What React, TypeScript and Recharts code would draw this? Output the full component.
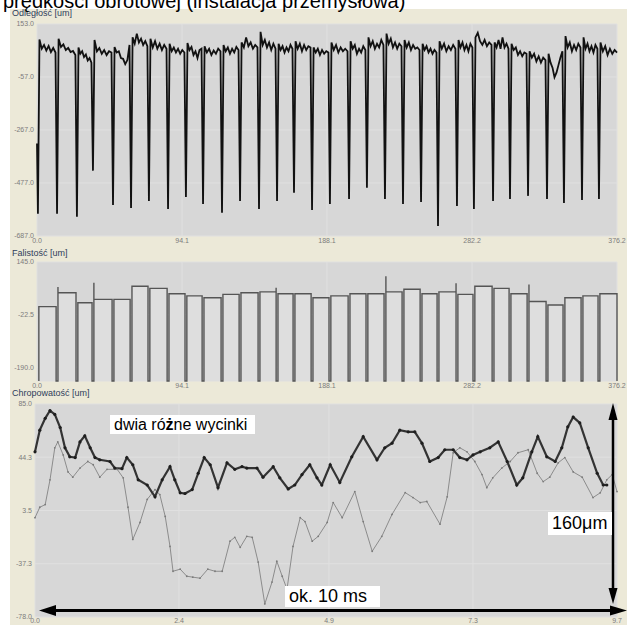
import React from "react";
import { LineChart, Line, AreaChart, Area, XAxis, YAxis, CartesianGrid } from "recharts";

// shared x positions (um scale 0..376.2) of the gaps between workpieces
const gapPos = [
  0.6, 13.0, 25.9, 36.3, 49.3, 61.0, 72.6, 85.0, 96.6, 107.7, 120.0, 131.7, 144.0, 155.7, 166.7, 178.4,
  190.0, 202.4, 214.0, 225.7, 237.4, 249.1, 260.1, 272.4, 283.4, 295.8, 306.8, 318.5, 330.8, 341.8, 353.5, 364.5,
];

// Odległość: depth of every dip and the noisy level between dips
const distStart = -320;
const dipBottom = [
  -599, -599, -611, -428, -564, -576, -548, -580, -532, -560, -595, -548, -580, -548, -516, -584,
  -560, -540, -496, -540, -560, -552, -647, -568, -580, -548, -540, -528, -540, -556, -544, -540,
];
const plateaus = [
  [92, 55, 70, 48, 66, 42, 58, 40],
  [95, 62, 72, 50, 58, 42, 46, 30],
  [60, 35, 45, 22, 32, 8, 18, 0],
  [90, 45, 58, 35, 50, 30, 45, 40],
  [62, 40, 45, 18, 15, -6, 10, 70],
  [100, 75, 115, 80, 95, 70, 85, 65],
  [95, 60, 85, 55, 75, 50, 70, 55],
  [75, 45, 60, 40, 55, 35, 50, 40],
  [78, 50, 62, 30, 45, 18, 50, 55],
  [65, 40, 55, 30, 48, 35, 55, 45],
  [70, 45, 60, 35, 55, 40, 62, 50],
  [80, 60, 100, 65, 80, 55, 70, 60],
  [122, 70, 90, 60, 80, 50, 75, 55],
  [75, 50, 65, 40, 60, 45, 70, 55],
  [85, 55, 75, 45, 70, 50, 65, 60],
  [60, 40, 55, 30, 50, 35, 45, 40],
  [80, 50, 70, 40, 60, 45, 55, 45],
  [85, 55, 70, 35, 55, 40, 65, 50],
  [100, 65, 85, 55, 75, 60, 90, 70],
  [115, 75, 95, 60, 80, 55, 75, 65],
  [90, 60, 80, 50, 70, 55, 60, 50],
  [75, 50, 65, 40, 55, 35, 50, 40],
  [85, 55, 75, 45, 65, 50, 70, 55],
  [90, 60, 80, 50, 70, 45, 75, 60],
  [100, 118, 85, 70, 90, 65, 80, 70],
  [80, 60, 90, 55, 100, 60, 75, 55],
  [75, 50, 60, 30, 45, 25, 40, 35],
  [45, 20, 35, 5, 25, 0, 20, 10],
  [35, 0, -20, -58, -40, -10, 20, 45],
  [105, 60, 80, 45, 70, 50, 75, 60],
  [100, 55, 75, 45, 65, 40, 70, 55],
  [80, 45, 65, 30, 55, 35, 50, 40],
];
const distTicks = [153, -57, -267, -477, -687];

// Falistość: level of every workpiece + the odd spikes at an edge
const waveFloor = -234;
const waveTop = [3, 47, 15, 26, 26, 68, 61, 44, 37, 31, 42, 47, 50, 44, 44, 31, 37, 44, 44, 50, 58, 44, 50, 42, 68, 61, 44, 19, 8, 31, 37, 44];
const spikeStart: (number | null)[] = waveTop.map(() => null);
spikeStart[1] = 65;
spikeStart[3] = 79;
spikeStart[19] = 100;
spikeStart[27] = 73;
const spikeEnd: (number | null)[] = waveTop.map(() => null);
spikeEnd[12] = 63;
spikeEnd[22] = 77;
const waveTicks = [145, -22.5, -190];

const posTicks = [0, 94.1, 188.1, 282.2, 376.2];
const posMax = 376.2;

// Chropowatość: two sections, [x, um]
const roughDark: [number, number][] = [
  [0.0, 48.4], [0.08, 65], [0.17, 74], [0.25, 80], [0.33, 77], [0.42, 67], [0.5, 51.5], [0.58, 44.6],
  [0.67, 44], [0.75, 56], [0.83, 60.6], [0.92, 51.5], [1.0, 44], [1.08, 42.3], [1.25, 41], [1.33, 36],
  [1.45, 35.5], [1.53, 44], [1.63, 38.5], [1.72, 27], [1.87, 23], [2.0, 14], [2.12, 27], [2.25, 37],
  [2.33, 27], [2.42, 17], [2.5, 16.5], [2.62, 19.5], [2.72, 32], [2.82, 44], [2.92, 38.5], [3.05, 21],
  [3.2, 40], [3.33, 35], [3.45, 37], [3.53, 36], [3.7, 36], [3.8, 29], [3.97, 37], [4.08, 28.5],
  [4.22, 20], [4.33, 23], [4.45, 31], [4.58, 38.5], [4.7, 28.5], [4.78, 23], [4.92, 38.5], [5.08, 25],
  [5.28, 44.6], [5.47, 60], [5.7, 42.3], [5.83, 51.5], [5.95, 55], [6.08, 65], [6.22, 63.7], [6.33, 63.7],
  [6.45, 55], [6.58, 41], [6.72, 44], [6.83, 50], [6.97, 50], [7.08, 44], [7.2, 42.3], [7.3, 46],
  [7.42, 48.4], [7.58, 51.5], [7.72, 56], [7.87, 41], [8.03, 23], [8.13, 28.5], [8.28, 48.4], [8.38, 60],
  [8.53, 44.6], [8.67, 41], [8.78, 51.5], [8.88, 67.5], [8.97, 75], [9.08, 70.5], [9.22, 51.5], [9.37, 32],
  [9.47, 23], [9.53, 23],
];
const roughLight: [number, number][] = [
  [0.0, -2], [0.08, 6], [0.17, 8], [0.25, 27], [0.33, 51.5], [0.38, 56], [0.47, 46], [0.55, 33],
  [0.63, 29], [0.75, 36], [0.88, 41], [0.97, 38.5], [1.08, 29], [1.2, 35], [1.37, 35], [1.47, 28.5],
  [1.55, 6], [1.63, -18.6], [1.75, -5.6], [1.87, 12], [2.0, 19.5], [2.08, 15.7], [2.17, -1], [2.25, -24],
  [2.3, -43], [2.42, -41.4], [2.53, -46.8], [2.63, -47.5], [2.75, -48.3], [2.88, -41.4], [3.0, -43], [3.12, -43],
  [3.25, -20], [3.33, -17], [3.42, -24.7], [3.53, -16.3], [3.62, -17], [3.72, -36], [3.83, -68], [3.95, -51.3],
  [4.03, -35.3], [4.12, -46.8], [4.2, -56.7], [4.3, -24], [4.42, -2], [4.5, -5], [4.62, -20], [4.72, -16.3],
  [4.87, -5.6], [4.97, 9.6], [5.12, -2], [5.33, 18], [5.47, -5], [5.62, -27.7], [5.78, -16.3], [5.95, 0.5],
  [6.17, 17.2], [6.3, 13.4], [6.42, 9.6], [6.53, 10.4], [6.75, -7], [6.87, 14], [6.97, 47.7], [7.08, 51.5],
  [7.2, 48.4], [7.33, 41], [7.45, 31], [7.53, 21], [7.63, 28.5], [7.78, 36], [7.92, 41], [8.05, 47.7],
  [8.22, 50], [8.37, 32], [8.47, 25.6], [8.58, 29], [8.72, 40], [8.83, 44], [8.97, 33], [9.12, 29],
  [9.3, 13.4], [9.42, 17], [9.53, 27], [9.62, 31], [9.7, 18],
];
const roughTicks = [85, 44.3, 3.5, -37.3, -78];
const timeTicks = [0, 2.4, 4.9, 7.3, 9.7];

// build series
const distData: { x: number; y: number }[] = [{ x: 0, y: distStart }];
gapPos.forEach((g, i) => {
  distData.push({ x: g, y: dipBottom[i] });
  const from = g + 1.0;
  const to = i + 1 < gapPos.length ? gapPos[i + 1] - 1.0 : posMax;
  const vals = plateaus[i];
  vals.forEach((v, k) => distData.push({ x: from + (k * (to - from)) / (vals.length - 1), y: v }));
});

const waveData: { x: number; y: number }[] = [];
waveTop.forEach((top, i) => {
  const from = gapPos[i] + 0.6;
  const to = i + 1 < gapPos.length ? gapPos[i + 1] - 0.6 : posMax;
  waveData.push({ x: from, y: waveFloor });
  if (spikeStart[i] != null) waveData.push({ x: from, y: spikeStart[i] as number });
  waveData.push({ x: from, y: top });
  waveData.push({ x: to, y: top });
  if (spikeEnd[i] != null) waveData.push({ x: to, y: spikeEnd[i] as number });
  waveData.push({ x: to, y: waveFloor });
});

const darkData = roughDark.map(([x, y]) => ({ x, y }));
const lightData = roughLight.map(([x, y]) => ({ x, y }));

const FONT = "'Liberation Sans', Arial, sans-serif";
const PLOT_BG = "#d7d7d7";
const GRID = "#e0e0e0";
const tickStyle = { fontSize: 7, fill: "#7c7c7c", fontFamily: FONT };
const fmt = (v: number) => v.toFixed(1);

const panelLabel: React.CSSProperties = {
  position: "absolute",
  left: 12,
  fontSize: 9,
  color: "#2e3d5a",
  fontFamily: FONT,
  lineHeight: "10px",
  whiteSpace: "nowrap",
};

const noteBox: React.CSSProperties = {
  position: "absolute",
  background: "#ffffff",
  color: "#000",
  fontFamily: FONT,
  whiteSpace: "nowrap",
  boxSizing: "border-box",
  paddingLeft: 4,
};

export default function App() {
  return (
    <div
      style={{
        position: "fixed",
        left: 0,
        top: 0,
        width: 627,
        height: 625,
        overflow: "hidden",
        background: "#ffffff",
      }}
    >
      <div style={{ position: "absolute", left: 10, top: 9, width: 617, height: 616, background: "#ece9d8" }} />

      {/* Odległość */}
      <div style={{ position: "absolute", left: 0, top: 0 }}>
        <LineChart width={627} height={246} margin={{ top: 24, right: 10, bottom: 0, left: 10 }}>
          <CartesianGrid fill={PLOT_BG} stroke={GRID} />
          <XAxis
            type="number"
            dataKey="x"
            domain={[0, posMax]}
            ticks={posTicks}
            tickFormatter={fmt}
            interval={0}
            height={10}
            tick={tickStyle}
            tickLine={false}
            axisLine={false}
            tickSize={0}
            tickMargin={2}
          />
          <YAxis
            type="number"
            domain={[-687, 153]}
            ticks={distTicks}
            tickFormatter={fmt}
            interval={0}
            width={27}
            tick={tickStyle}
            tickLine={false}
            axisLine={false}
            tickSize={0}
            tickMargin={3}
          />
          <Line
            data={distData}
            dataKey="y"
            type="linear"
            stroke="#111111"
            strokeWidth={1.8}
            dot={false}
            isAnimationActive={false}
          />
        </LineChart>
      </div>

      {/* Falistość */}
      <div style={{ position: "absolute", left: 0, top: 238 }}>
        <AreaChart width={627} height={153} margin={{ top: 24, right: 10, bottom: 0, left: 10 }}>
          <CartesianGrid fill={PLOT_BG} stroke={GRID} />
          <XAxis
            type="number"
            dataKey="x"
            domain={[0, posMax]}
            ticks={posTicks}
            tickFormatter={fmt}
            interval={0}
            height={10}
            tick={tickStyle}
            tickLine={false}
            axisLine={false}
            tickSize={0}
            tickMargin={2}
          />
          <YAxis
            type="number"
            domain={[waveFloor, 145]}
            ticks={waveTicks}
            tickFormatter={fmt}
            interval={0}
            width={27}
            tick={tickStyle}
            tickLine={false}
            axisLine={false}
            tickSize={0}
            tickMargin={3}
          />
          <Area
            data={waveData}
            dataKey="y"
            type="linear"
            baseValue={waveFloor}
            stroke="#555555"
            strokeWidth={1.4}
            fill="#dedede"
            fillOpacity={1}
            dot={false}
            activeDot={false}
            isAnimationActive={false}
          />
        </AreaChart>
      </div>

      {/* Chropowatość */}
      <div style={{ position: "absolute", left: 0, top: 380 }}>
        <LineChart width={627} height={245} margin={{ top: 24, right: 10, bottom: 0, left: 10 }}>
          <CartesianGrid fill={PLOT_BG} stroke={GRID} />
          <XAxis
            type="number"
            dataKey="x"
            domain={[0, 9.7]}
            ticks={timeTicks}
            tickFormatter={fmt}
            interval={0}
            height={8}
            tick={tickStyle}
            tickLine={false}
            axisLine={false}
            tickSize={0}
            tickMargin={1}
          />
          <YAxis
            type="number"
            domain={[-78, 85]}
            ticks={roughTicks}
            tickFormatter={fmt}
            interval={0}
            width={25}
            tick={tickStyle}
            tickLine={false}
            axisLine={false}
            tickSize={0}
            tickMargin={3}
          />
          <Line
            data={lightData}
            dataKey="y"
            type="linear"
            stroke="#8c8c8c"
            strokeWidth={1}
            dot={{ r: 0.9, fill: "#7a7a7a", stroke: "none" }}
            isAnimationActive={false}
          />
          <Line
            data={darkData}
            dataKey="y"
            type="linear"
            stroke="#333333"
            strokeWidth={2.2}
            dot={{ r: 1.6, fill: "#1e1e1e", stroke: "none" }}
            isAnimationActive={false}
          />
        </LineChart>
      </div>

      <div style={panelLabel}>
        <span style={{ position: "absolute", top: 8 }}>Odległość [um]</span>
        <span style={{ position: "absolute", top: 248 }}>Falistość [um]</span>
        <span style={{ position: "absolute", top: 388 }}>Chropowatość [um]</span>
      </div>

      {/* cut-off slide title */}
      <div
        style={{
          position: "absolute",
          left: 3,
          top: -9,
          fontSize: 20,
          lineHeight: "20px",
          fontFamily: FONT,
          color: "#000",
          whiteSpace: "nowrap",
        }}
      >
        prędkości obrotowej (instalacja przemysłowa)
      </div>

      {/* annotations */}
      <svg width={627} height={625} style={{ position: "absolute", left: 0, top: 0 }}>
        <line x1={52} y1={610.5} x2={614} y2={610.5} stroke="#000" strokeWidth={3} />
        <polygon points="39,610.5 56,605 56,616" fill="#000" />
        <polygon points="627,610.5 610,605.5 610,615.5" fill="#000" />
        <line x1={613} y1={416} x2={613} y2={592} stroke="#000" strokeWidth={2.5} />
        <polygon points="613,403 608.5,420 617.5,420" fill="#000" />
        <polygon points="613,604 608.5,588 617.5,588" fill="#000" />
      </svg>
      <div style={{ ...noteBox, left: 110, top: 415, width: 145, height: 19, fontSize: 16, lineHeight: "19px" }}>
        dwia ró<b>ż</b>ne wycinki
      </div>
      <div style={{ ...noteBox, left: 285, top: 586, width: 95, height: 21, fontSize: 18, lineHeight: "21px" }}>
        ok. 10 ms
      </div>
      <div style={{ ...noteBox, left: 548, top: 512, width: 64, height: 23, fontSize: 18, lineHeight: "23px" }}>
        160μm
      </div>
    </div>
  );
}
